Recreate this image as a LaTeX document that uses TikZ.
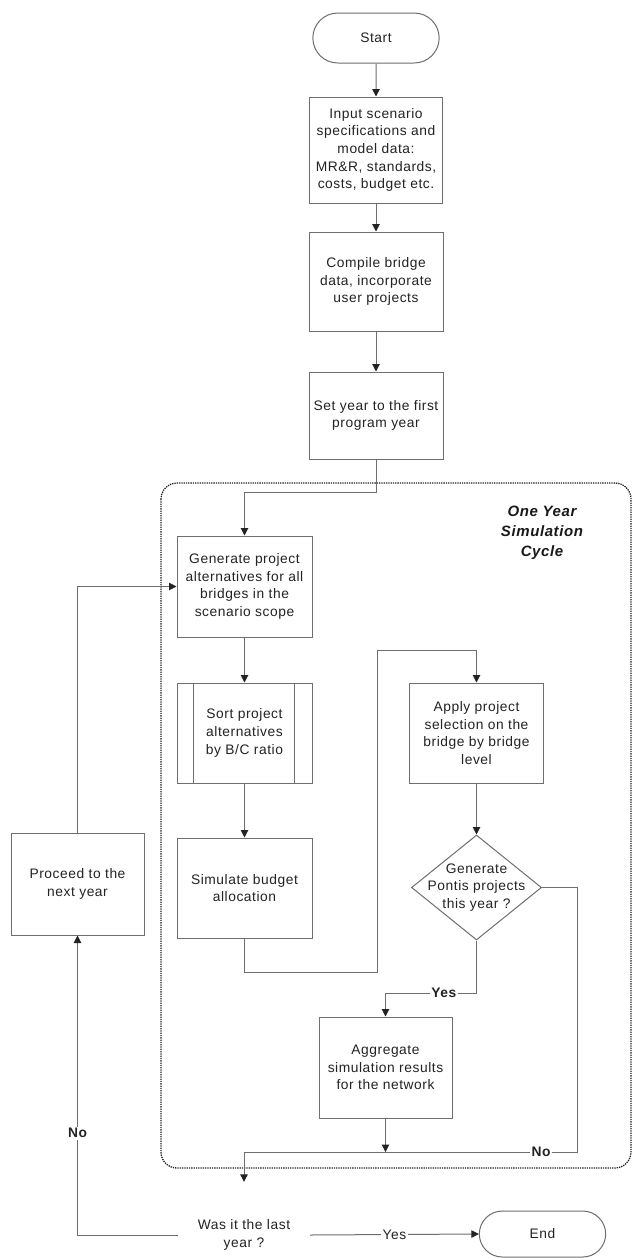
\documentclass[tikz,border=0pt]{standalone}
\usepackage{fontspec}
\setmainfont{Liberation Sans}[LetterSpace=4]
\usetikzlibrary{arrows.meta,shapes.geometric,shapes.misc}
\definecolor{lc}{RGB}{110,110,110}
\definecolor{tc}{RGB}{35,35,35}
\begin{document}
\begin{tikzpicture}[x=1pt,y=-1pt,
 every node/.style={font=\fontsize{13.8}{17.7}\selectfont, text=tc},
 box/.style={draw=lc, line width=1pt, rectangle, align=center, inner sep=2pt},
 term/.style={draw=lc, line width=1pt, rounded rectangle, minimum width=133, minimum height=50, align=center},
 arr/.style={draw=lc, line width=1pt, -{Triangle[width=7.5pt,length=7.5pt,color=tc]}},
 ln/.style={draw=lc, line width=1pt},
 lbl/.style={fill=white, inner sep=1.5pt},
 blbl/.style={fill=white, inner sep=1.5pt, font=\fontsize{13.8}{17.7}\selectfont\bfseries},
 ]
\useasboundingbox (0,0) rectangle (632,1258);
\fill[white] (0,0) rectangle (632,1258);

% container
\draw[draw=tc, line width=1.3pt, dash pattern=on 1.3pt off 1pt, rounded corners=16] (161,483) rectangle (631,1168);
\node[font=\fontsize{15}{20}\selectfont\bfseries\itshape, align=center, text=black!90] (title) at (542,533) {One Year\\Simulation\\Cycle};

% nodes
\node[term] (start) at (376,38) {Start};
\node[box, minimum width=133, minimum height=106] (input) at (376,150) {Input scenario\\specifications and\\model data:\\MR\&R, standards,\\costs, budget etc.};
\node[box, minimum width=134, minimum height=99] (compile) at (376,281.5) {Compile bridge\\data, incorporate\\user projects};
\node[box, minimum width=134, minimum height=87] (setyear) at (376,415.5) {Set year to the first\\program year};

\node[box, minimum width=135, minimum height=101] (gen) at (244.5,586.5) {Generate project\\alternatives for all\\bridges in the\\scenario scope};
\node[box, minimum width=135, minimum height=100] (sort) at (244.5,733) {Sort project\\alternatives\\by B/C ratio};
\draw[ln] ([xshift=17]sort.north west) -- ([xshift=17]sort.south west);
\draw[ln] ([xshift=-18]sort.north east) -- ([xshift=-18]sort.south east);
\node[box, minimum width=135, minimum height=100] (sim) at (244.5,888) {Simulate budget\\allocation};
\node[box, minimum width=133, minimum height=102] (proceed) at (77.5,884) {Proceed to the\\next year};

\node[box, minimum width=134, minimum height=100] (apply) at (476.5,733) {Apply project\\selection on the\\bridge by bridge\\level};
\node[draw=lc, line width=1pt, diamond, minimum width=130, minimum height=105, inner sep=0] (dec) at (476.5,887.5) {};
\node[align=center] (dectxt) at (dec) {Generate\\Pontis projects\\this year ?};

\node[box, minimum width=133, minimum height=101] (agg) at (385.5,1067.5) {Aggregate\\simulation results\\for the network};

\node[diamond, minimum width=132, minimum height=106, inner sep=0] (last) at (244,1235) {};
\node[align=center] (lasttxt) at (last) {Was it the last\\year ?};
\node[term, minimum height=46] (end) at (542.5,1234) {End};

% connectors
\draw[arr] (start) -- (input);
\draw[arr] (input) -- (compile);
\draw[arr] (compile) -- (setyear);
\draw[arr] (setyear.south) -- ++(0,33) -| (gen.north);
\draw[arr] (gen) -- (sort);
\draw[arr] (sort) -- (sim);
\coordinate (b1) at (377,650);
\draw[arr] (sim.south) -- ++(0,34) -| (b1) -| (apply.north);
\draw[arr] (apply) -- (dec);
\coordinate (yb) at (476.5,993);
\draw[arr] (dec.south) -- (yb) -| node[blbl,pos=0.18]{Yes} (agg.north);
\coordinate (nr) at (577,1152);
\draw[arr] (dec.east) -| (nr) -| node[blbl,pos=0.054]{No} (last.north);
\coordinate (m1) at (385.5,1152);
\draw[arr] (agg) -- (m1);
\draw[arr] (last.west) -| node[blbl,pos=0.67]{No} (proceed.south);
\draw[arr] (proceed.north) |- (gen.west);
\draw[arr] (last.east) -- node[lbl]{Yes} (end.west);
\end{tikzpicture}
\end{document}
